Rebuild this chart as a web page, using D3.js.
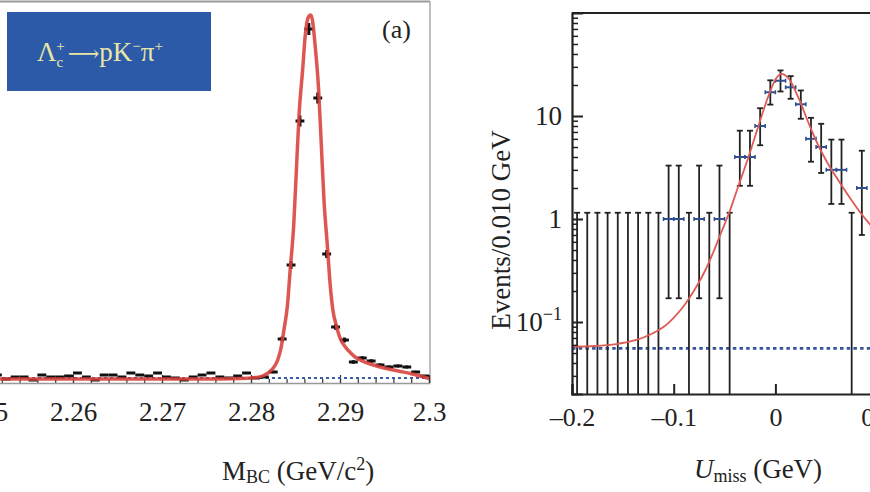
<!DOCTYPE html>
<html><head><meta charset="utf-8">
<script src="https://cdn.jsdelivr.net/npm/d3@7/dist/d3.min.js"></script>
<style>
html,body{margin:0;padding:0;background:#fff;}
svg{display:block;}
text{font-family:"Liberation Serif","Times New Roman",serif;fill:#222;}
</style></head>
<body>
<svg id="chart" width="870" height="492"></svg>
<script>
// ---------------- Panel (a): M_BC distribution ----------------
const leftBins = [2.2505,2.2515,2.2525,2.2535,2.2545,2.2555,2.2565,2.2575,2.2585,2.2595,
  2.2605,2.2615,2.2625,2.2635,2.2645,2.2655,2.2665,2.2675,2.2685,2.2695,
  2.2705,2.2715,2.2725,2.2735,2.2745,2.2755,2.2765,2.2775,2.2785,2.2795,
  2.2805,2.2815,2.2825,2.2835,2.2845,2.2855,2.2865,2.2875,2.2885,2.2895,
  2.2905,2.2915,2.2925,2.2935,2.2945,2.2955,2.2965,2.2975,2.2985,2.2995];
const leftCounts = [60,80,40,60,60,30,80,60,60,70,
  100,60,30,80,80,60,100,80,70,100,
  60,50,30,60,80,100,60,50,70,100,
  50,60,110,440,1180,2620,3540,2850,1290,560,
  430,210,250,220,180,160,170,160,110,70];
const leftErrors = [10,10,8,10,10,8,10,10,10,10,
  10,10,8,10,10,10,10,10,10,10,
  10,10,8,10,10,10,10,10,10,10,
  10,10,12,25,40,55,60,55,40,28,
  25,18,18,18,16,15,15,15,12,10];
const leftFitX = [2.2500,2.2631,2.2743,2.2788,2.2805,2.2813,2.2819,2.2825,2.2830,2.2834,
  2.2837,2.2841,2.2844,2.2848,2.2851,2.2854,2.2858,2.2861,2.2864,2.2867,2.2869,
  2.2872,2.2876,2.2879,2.2882,2.2886,2.2889,2.2892,2.2896,2.2900,2.2906,
  2.2912,2.2917,2.2925,2.2934,2.2945,2.2957,2.2968,2.2979,2.2990,2.3000];
const leftFitY = [40,40,40,45,55,70,100,150,230,360,
  530,780,1130,1580,2130,2680,3130,3480,3650,3680,3630,
  3380,2930,2380,1830,1350,980,730,570,450,360,
  300,260,220,190,160,135,115,95,70,45];
const leftBkgLevel = [50, 50];
const leftBkgX = [2.25, 2.30];
const leftTickValues = [2.25,2.26,2.27,2.28,2.29,2.30];
const leftTickLabels = ["2.25","2.26","2.27","2.28","2.29","2.3"];
const leftMinorTicks = d3.range(0,26).map(i => +(2.25 + i*0.002).toFixed(3));

// ---------------- Panel (b): U_miss distribution ----------------
const rightBins = [-0.195,-0.185,-0.175,-0.165,-0.155,-0.145,-0.135,-0.125,-0.115,-0.105,
  -0.095,-0.085,-0.075,-0.065,-0.055,-0.045,-0.035,-0.025,-0.015,-0.005,
  0.005,0.015,0.025,0.035,0.045,0.055,0.065,0.075,0.085];
const rightCounts = [0,0,0,0,0,0,0,0,0,1,
  1,0,1,0,1,0,4,4,8,17,
  22,19,13,6,5,3,3,0,2];
const rightErrLo = [0,0,0,0,0,0,0,0,0,0.83,
  0.83,0,0.83,0,0.83,0,1.9,1.9,2.8,4.1,
  4.7,4.3,3.6,2.4,2.2,1.6,1.6,0,1.3];
const rightErrHi = [1.15,1.15,1.15,1.15,1.15,1.15,1.15,1.15,1.15,2.3,
  2.3,1.15,2.3,1.15,2.3,1.15,3.2,3.2,3.9,5.2,
  5.7,5.4,4.7,3.6,3.4,2.9,2.9,1.15,2.6];
const rightFitX = [-0.200,-0.178,-0.1563,-0.1367,-0.1219,-0.1101,-0.1003,-0.0924,-0.0846,-0.0767,
  -0.0688,-0.0610,-0.0531,-0.0452,-0.0374,-0.0268,-0.0170,-0.0072,0.0010,0.0059,
  0.0125,0.0223,0.0322,0.0420,0.0518,0.0617,0.0747,0.0846,0.0944,0.1042];
const rightFitY = [0.0576,0.0585,0.0611,0.0669,0.0765,0.0894,0.1093,0.1337,0.171,0.2287,
  0.3197,0.4782,0.748,1.169,1.956,3.91,7.82,15.3,23.4,25.6,
  23.4,15.3,8.74,5.23,3.42,2.39,1.53,1.118,0.855,0.654];
const rightBkgX = [-0.2, 0.2];
const rightBkgLevel = [0.0555, 0.0555];
const rightXTicks = [-0.2,-0.1,0,0.1,0.2];
const rightXTickLabels = ["\u20130.2","\u20130.1","0","0.1","0.2"];
const rightYMajor = [0.1, 1, 10];

const svg = d3.select("#chart");
svg.append("rect").attr("width",870).attr("height",492).attr("fill","#fff");

// ======== LEFT PANEL ========
const xL = d3.scaleLinear().domain([2.25, 2.30]).range([-16, 429]);
const yL = d3.scaleLinear().domain([0, 3700]).range([383, 13]);
const gL = svg.append("g");

gL.append("line").attr("x1",0).attr("x2",430).attr("y1",1.5).attr("y2",1.5).attr("stroke","#999").attr("stroke-width",2);
gL.append("line").attr("x1",430).attr("x2",430).attr("y1",1.5).attr("y2",383).attr("stroke","#aaa").attr("stroke-width",1.5);

const axLminor = d3.axisBottom(xL).tickValues(leftMinorTicks).tickSize(-4).tickFormat("");
gL.append("g").attr("transform","translate(0,383)").call(axLminor)
  .call(g => g.select(".domain").remove())
  .selectAll("line").attr("stroke","#333").attr("stroke-width",1.2);
const axL = d3.axisBottom(xL).tickValues(leftTickValues).tickSize(-8).tickPadding(19)
  .tickFormat((d,i) => leftTickLabels[i]);
gL.append("g").attr("transform","translate(0,383)").call(axL)
  .call(g => g.select(".domain").attr("stroke","#999").attr("stroke-width",1.5))
  .call(g => g.selectAll("line").attr("stroke","#333").attr("stroke-width",1.2))
  .call(g => g.selectAll("text").attr("font-size",27).attr("font-family","Liberation Serif").attr("fill","#222"));

gL.append("path")
  .attr("d", d3.line().x((d,i)=>xL(leftBkgX[i])).y(d=>yL(d))(leftBkgLevel))
  .attr("stroke","#3b5ba5").attr("stroke-width",2.2).attr("stroke-dasharray","3,3").attr("fill","none");

const binHalfL = 0.0005;
const ptsL = gL.append("g");
leftBins.forEach((b,i) => {
  const cx = xL(b), cy = yL(leftCounts[i]);
  ptsL.append("line").attr("x1",xL(b-binHalfL)).attr("x2",xL(b+binHalfL)).attr("y1",cy).attr("y2",cy)
    .attr("stroke","#111").attr("stroke-width",3);
  ptsL.append("line").attr("x1",cx).attr("x2",cx)
    .attr("y1",yL(leftCounts[i]-leftErrors[i])).attr("y2",yL(leftCounts[i]+leftErrors[i]))
    .attr("stroke","#111").attr("stroke-width",3);
});

gL.append("path")
  .attr("d", d3.line().x((d,i)=>xL(leftFitX[i])).y(d=>yL(d)).curve(d3.curveMonotoneX)(leftFitY))
  .attr("stroke","#d8403a").attr("stroke-width",3.5).attr("fill","none").attr("opacity",0.88);

// label box
gL.append("rect").attr("x",7).attr("y",12).attr("width",204).attr("height",79).attr("fill","#2c5aa8");
const lab = gL.append("text").attr("x",37).attr("y",61).attr("font-size",27).style("fill","#e8e6a6");
lab.append("tspan").text("\u039B");
lab.append("tspan").attr("font-size",15).attr("dy",6).text("c");
lab.append("tspan").attr("font-size",15).attr("dx",-7).attr("dy",-16).text("+");
lab.append("tspan").attr("dy",10).attr("dx",3).attr("font-family","DejaVu Serif").attr("font-size",22).text("\u27F6");
lab.append("tspan").text("pK");
lab.append("tspan").attr("font-size",15).attr("dy",-10).text("\u2212");
lab.append("tspan").attr("dy",10).text("\u03C0");
lab.append("tspan").attr("font-size",15).attr("dy",-10).text("+");

gL.append("text").attr("x",382).attr("y",38).attr("font-size",26).text("(a)");

const tL = gL.append("text").attr("x",298).attr("y",480).attr("text-anchor","middle").attr("font-size",27);
tL.append("tspan").text("M");
tL.append("tspan").attr("font-size",18).attr("dy",3).text("BC");
tL.append("tspan").attr("dy",-3).text(" (GeV/c");
tL.append("tspan").attr("font-size",18).attr("dy",-10).text("2");
tL.append("tspan").attr("dy",10).text(")");

// ======== RIGHT PANEL ========
const xR = d3.scaleLinear().domain([-0.2, 0.2]).range([572, 978.8]);
const yR = d3.scaleLog().domain([0.02, 100]).range([394, 13]);
const gR = svg.append("g");
svg.append("defs").append("clipPath").attr("id","clipR")
  .append("rect").attr("x",572).attr("y",13).attr("width",420).attr("height",381);

gR.append("path").attr("clip-path","url(#clipR)")
  .attr("d", d3.line().x((d,i)=>xR(rightBkgX[i])).y(d=>yR(d))(rightBkgLevel))
  .attr("stroke","#34549c").attr("stroke-width",2.6).attr("stroke-dasharray","3.5,3.2").attr("fill","none");

const binHalfR = 0.005;
const eb = gR.append("g").attr("clip-path","url(#clipR)");
rightBins.forEach((b,i) => {
  const cx = xR(b);
  const n = rightCounts[i];
  const lo = n - rightErrLo[i], hi = n + rightErrHi[i];
  const yLo = lo > 0 ? yR(lo) : 396;
  const yHi = yR(hi);
  eb.append("line").attr("x1",cx).attr("x2",cx).attr("y1",yLo).attr("y2",yHi).attr("stroke","#222").attr("stroke-width",1.8);
  eb.append("line").attr("x1",cx-3).attr("x2",cx+3).attr("y1",yHi).attr("y2",yHi).attr("stroke","#222").attr("stroke-width",1.8);
  if (lo > 0) eb.append("line").attr("x1",cx-3).attr("x2",cx+3).attr("y1",yLo).attr("y2",yLo).attr("stroke","#222").attr("stroke-width",1.8);
  if (n > 0) {
    const cy = yR(n);
    eb.append("line").attr("x1",xR(b-binHalfR)).attr("x2",xR(b+binHalfR)).attr("y1",cy).attr("y2",cy)
      .attr("stroke","#2f4f8f").attr("stroke-width",2);
    [b-binHalfR, b+binHalfR].forEach(e => eb.append("line").attr("x1",xR(e)).attr("x2",xR(e))
      .attr("y1",cy-2).attr("y2",cy+2).attr("stroke","#2f4f8f").attr("stroke-width",1.5));
  }
});

gR.append("path").attr("clip-path","url(#clipR)")
  .attr("d", d3.line().x((d,i)=>xR(rightFitX[i])).y(d=>yR(d)).curve(d3.curveCatmullRom.alpha(0.5))(rightFitY))
  .attr("stroke","#dd5b55").attr("stroke-width",1.8).attr("fill","none");

gR.append("line").attr("x1",572).attr("x2",870).attr("y1",13).attr("y2",13).attr("stroke","#222").attr("stroke-width",2);
const yMinor = [];
[0.01,0.1,1,10].forEach(dec => { for (let k=2;k<=9;k++){ const v=dec*k; if (v>=0.02 && v<=100) yMinor.push(v);} });
const axRminor = d3.axisRight(yR).tickValues(yMinor).tickSize(6).tickFormat("");
gR.append("g").attr("transform","translate(572,0)").call(axRminor)
  .call(g => g.select(".domain").remove())
  .selectAll("line").attr("stroke","#222").attr("stroke-width",1.5);
const axRy = d3.axisLeft(yR).tickValues(rightYMajor).tickSize(-11).tickPadding(10).tickFormat("");
const gy = gR.append("g").attr("transform","translate(572,0)").call(axRy);
gy.select(".domain").attr("stroke","#222").attr("stroke-width",2.2);
gy.selectAll("line").attr("stroke","#222").attr("stroke-width",2);
gy.selectAll(".tick").each(function(d){
  const t = d3.select(this).append("text").attr("x",-10).attr("y",8).attr("text-anchor","end")
    .attr("font-size",27).style("fill","#222");
  if (d === 0.1) { t.append("tspan").text("10"); t.append("tspan").attr("font-size",18).attr("dy",-11).text("\u22121"); }
  else t.text(d3.format("~g")(d));
});
const axRx = d3.axisBottom(xR).tickValues(rightXTicks).tickSize(-10).tickPadding(14)
  .tickFormat((d,i) => rightXTickLabels[i]);
const gx = gR.append("g").attr("transform","translate(0,394)").call(axRx);
gx.select(".domain").attr("stroke","#222").attr("stroke-width",2.2);
gx.selectAll("line").attr("stroke","#222").attr("stroke-width",2);
gx.selectAll("text").attr("font-size",26).attr("font-family","Liberation Serif").attr("fill","#222");

svg.append("text").attr("transform","translate(510,230) rotate(-90)").attr("text-anchor","middle")
  .attr("font-size",27).text("Events/0.010 GeV");
const tR = svg.append("text").attr("x",758).attr("y",478).attr("text-anchor","middle").attr("font-size",27);
tR.append("tspan").attr("font-style","italic").text("U");
tR.append("tspan").attr("font-size",18).attr("dy",4).text("miss");
tR.append("tspan").attr("dy",-4).text(" (GeV)");
</script>
</body></html>
